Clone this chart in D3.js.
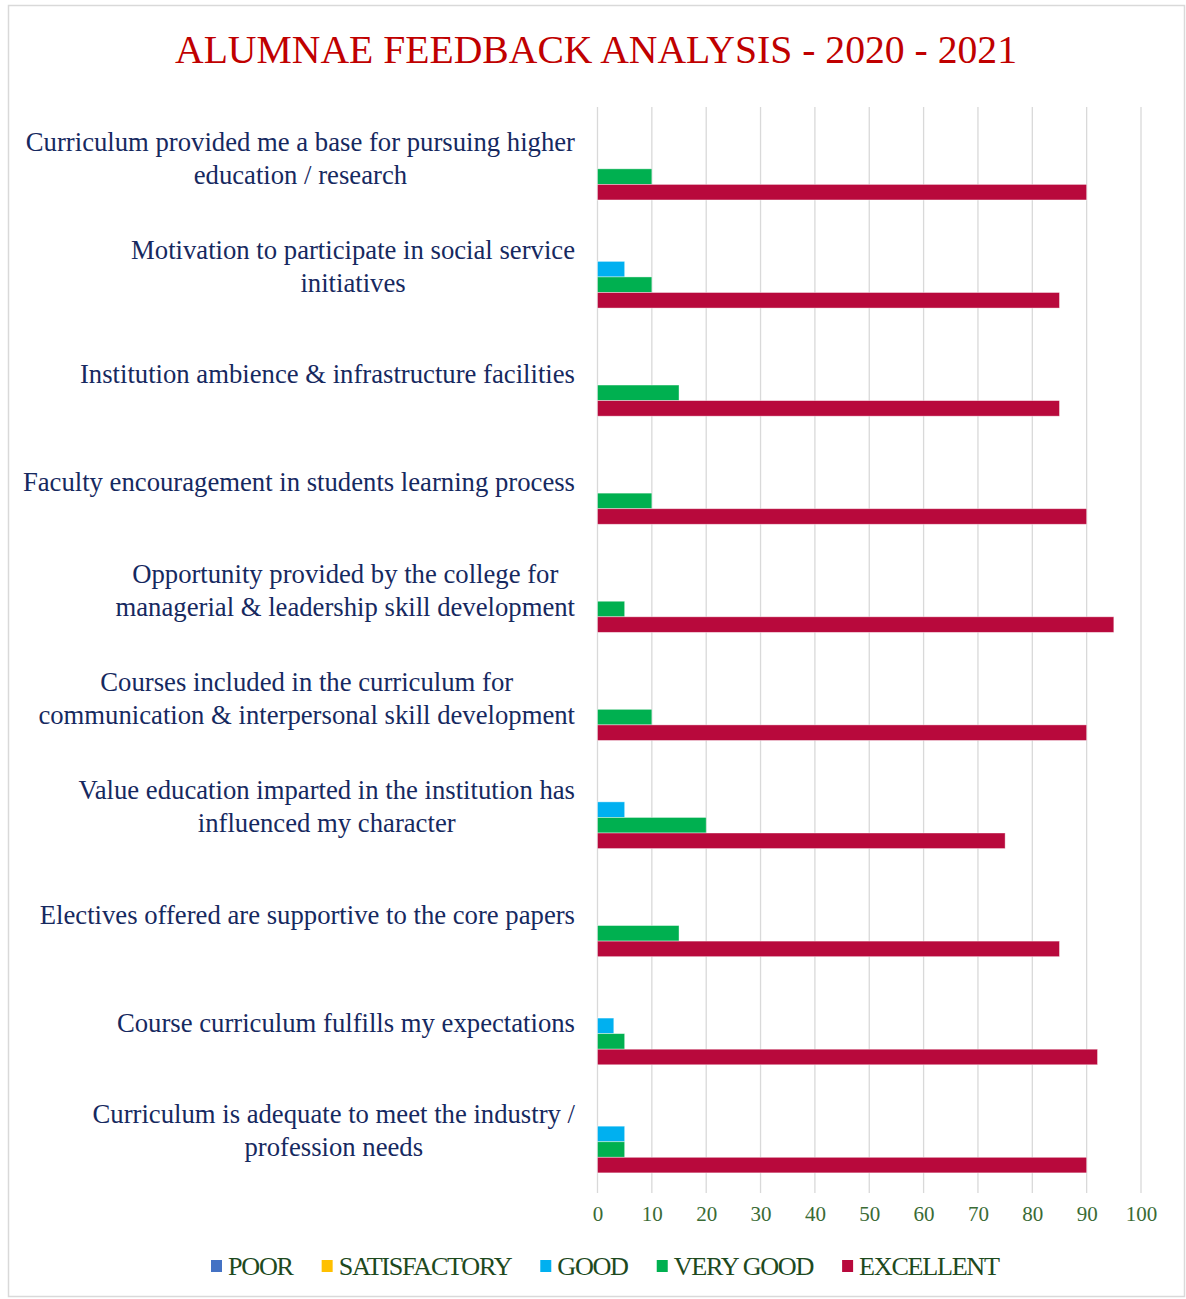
<!DOCTYPE html>
<html>
<head>
<meta charset="utf-8">
<script src="https://cdn.jsdelivr.net/npm/d3@7"></script>
<style>
  body { margin: 0; background: #fff; }
  svg text { font-family: "Liberation Serif", "DejaVu Serif", serif; }
</style>
</head>
<body>
<div class="chart"></div>
<script>
// data
const categories = [
  ["Curriculum provided me a base for pursuing higher", "education / research"],
  ["Motivation to participate in social service", "initiatives"],
  ["Institution ambience & infrastructure facilities"],
  ["Faculty encouragement in students learning process"],
  ["Opportunity provided by the college for", "managerial & leadership skill development"],
  ["Courses included in the curriculum for", "communication & interpersonal skill development"],
  ["Value education imparted in the institution has", "influenced my character"],
  ["Electives offered are supportive to the core papers"],
  ["Course curriculum fulfills my expectations"],
  ["Curriculum is adequate to meet the industry /", "profession needs"]
];
const seriesNames = ["POOR", "SATISFACTORY", "GOOD", "VERY GOOD", "EXCELLENT"];
const seriesColors = ["#4472c4", "#ffc000", "#00b0f0", "#00b050", "#b8093c"];
const poor         = [0, 0, 0, 0, 0, 0, 0, 0, 0, 0];
const satisfactory = [0, 0, 0, 0, 0, 0, 0, 0, 0, 0];
const good         = [0, 5, 0, 0, 0, 0, 5, 0, 3, 5];
const veryGood     = [10, 10, 15, 10, 5, 10, 20, 15, 5, 5];
const excellent    = [90, 85, 85, 90, 95, 90, 75, 85, 92, 90];
const xTicks = [0, 10, 20, 30, 40, 50, 60, 70, 80, 90, 100];

const allSeries = [poor, satisfactory, good, veryGood, excellent];

const w = 1186, h = 1299;
const pLeft = 597.5, pRight = 1141, pTop = 107, pBottom = 1188;

const svg = d3.select(".chart").append("svg")
  .attr("width", w)
  .attr("height", h);

// chart frame
svg.append("rect")
  .attr("x", 8.5).attr("y", 5.5)
  .attr("width", 1176).attr("height", 1291)
  .attr("fill", "#fff")
  .attr("stroke", "#d9d9d9")
  .attr("stroke-width", 1.5);

// title
svg.append("text")
  .attr("x", 596)
  .attr("y", 63)
  .attr("text-anchor", "middle")
  .attr("fill", "#c00000")
  .attr("font-size", 40)
  .attr("textLength", 842)
  .attr("lengthAdjust", "spacingAndGlyphs")
  .text("ALUMNAE FEEDBACK ANALYSIS - 2020 - 2021");

const idx = d3.range(categories.length);

const xScale = d3.scaleLinear().domain([0, 100]).range([pLeft, pRight]);
const yScale = d3.scaleBand().domain(idx).range([pTop, pBottom])
  .paddingInner(0.28).paddingOuter(0.14);
const ySub = d3.scaleBand().domain(d3.range(seriesNames.length))
  .range([0, yScale.bandwidth()]);

// grid
svg.append("g")
  .selectAll("line")
  .data(xTicks)
  .join("line")
  .attr("x1", d => xScale(d)).attr("x2", d => xScale(d))
  .attr("y1", pTop).attr("y2", pBottom + 5)
  .attr("stroke", "#d9d9d9")
  .attr("stroke-width", 1.3);

// bars
const groups = svg.append("g")
  .selectAll("g")
  .data(idx)
  .join("g")
  .attr("transform", i => `translate(0,${yScale(i)})`);

groups.selectAll("rect")
  .data(i => allSeries.map((s, k) => ({k, v: s[i]})).filter(d => d.v > 0))
  .join("rect")
  .attr("x", xScale(0))
  .attr("y", d => ySub(d.k))
  .attr("width", d => xScale(d.v) - xScale(0))
  .attr("height", ySub.bandwidth())
  .attr("fill", d => seriesColors[d.k])
  .attr("stroke", "#ffffff")
  .attr("stroke-opacity", 0.5)
  .attr("stroke-width", 0.8);

// x axis
const xAxis = d3.axisBottom(xScale).tickValues(xTicks).tickSize(0).tickPadding(0);
svg.append("g")
  .attr("transform", `translate(0, ${pBottom + 33})`)
  .call(xAxis)
  .call(g => g.select(".domain").remove())
  .call(g => g.selectAll("text")
    .attr("fill", "#3a6b35")
    .attr("font-size", 21)
    .attr("font-family", "Liberation Serif")
    .attr("dy", 0));

// category labels
const labelRight = 575, lineH = 33;
const labels = svg.append("g");
idx.forEach(i => {
  const lines = categories[i];
  const g = labels.append("g");
  const texts = lines.map(line => g.append("text")
    .attr("fill", "#16295f")
    .attr("font-size", 26.7)
    .attr("text-anchor", "middle")
    .text(line));
  const maxW = d3.max(texts, t => t.node().getComputedTextLength());
  const cy = yScale(i) + yScale.bandwidth() / 2 - 2;
  texts.forEach((t, j) => {
    t.attr("x", labelRight - maxW / 2)
      .attr("y", cy + (j - (lines.length - 1) / 2) * lineH + 8);
  });
});

// legend
const legend = svg.append("g").attr("id", "legend");
let lx = 211;
seriesNames.forEach((name, k) => {
  legend.append("rect")
    .attr("x", lx).attr("y", 1260)
    .attr("width", 11).attr("height", 12)
    .attr("fill", seriesColors[k]);
  const t = legend.append("text")
    .attr("x", lx + 17).attr("y", 1275)
    .attr("fill", "#1e4a1e")
    .attr("font-size", 26.2)
    .attr("letter-spacing", -1.3)
    .text(name);
  lx += 17 + t.node().getComputedTextLength() + 29;
});
</script>
</body>
</html>
